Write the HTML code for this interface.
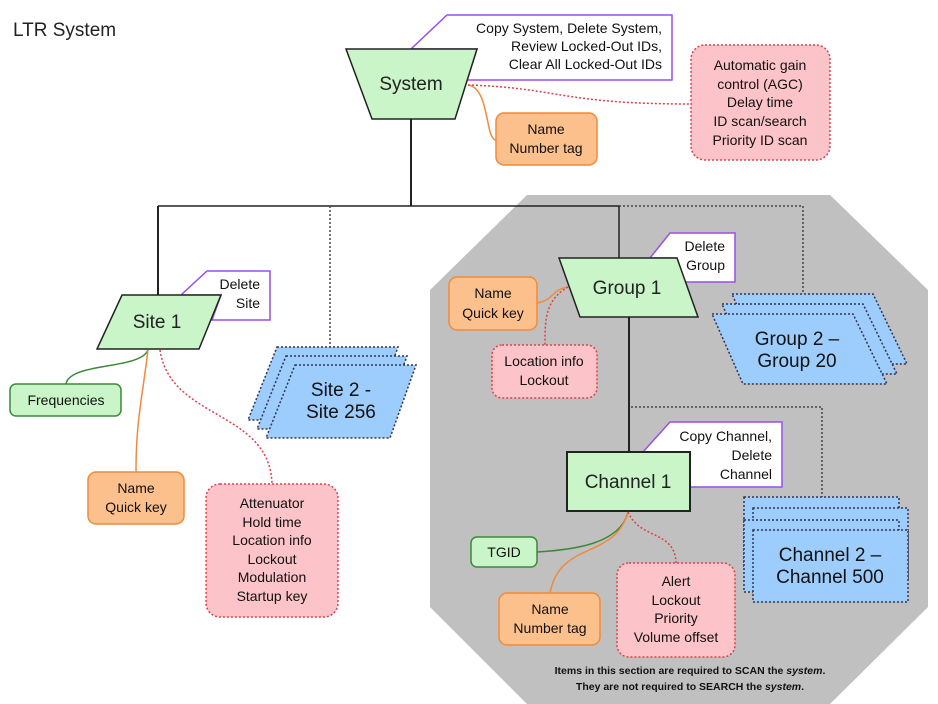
<!DOCTYPE html>
<html><head><meta charset="utf-8"><style>
html,body{margin:0;padding:0;background:#fff;}
svg{display:block;font-family:"Liberation Sans",sans-serif;}
</style></head><body>
<svg width="938" height="704" viewBox="0 0 938 704" xmlns="http://www.w3.org/2000/svg">
<text x="13" y="36" font-size="19" fill="#222">LTR System</text>
<!-- gray octagon -->
<polygon points="527,195 830,195 928,290 928,607 830,704 527,704 430,607 430,290" fill="#c0c0c0"/>
<!-- tree lines -->
<line x1="411" y1="118" x2="411" y2="206" stroke="#222" stroke-width="2"/>
<line x1="158" y1="206" x2="619" y2="206" stroke="#222" stroke-width="1.5"/>
<line x1="158" y1="206" x2="158" y2="296" stroke="#222" stroke-width="2"/>
<polyline points="619,206 803,206 803,293" fill="none" stroke="#444" stroke-width="1.5" stroke-dasharray="2,2"/>
<line x1="330" y1="206" x2="330" y2="347" stroke="#444" stroke-width="1.5" stroke-dasharray="2,2"/>
<line x1="619" y1="206" x2="619" y2="259" stroke="#222" stroke-width="1.5"/>
<line x1="629" y1="317" x2="629" y2="452" stroke="#222" stroke-width="2"/>
<polyline points="631,407 822,407 822,497" fill="none" stroke="#444" stroke-width="1.5" stroke-dasharray="2,2"/>
<!-- System -->
<polygon points="447,15 672,15 672,80 467,80 477,49 411,49" fill="#fff" stroke="#9a4ee8" stroke-width="1.5"/>
<g font-size="14" text-anchor="end" fill="#111"><text x="662" y="33">Copy System, Delete System,</text><text x="662" y="51">Review Locked-Out IDs,</text><text x="662" y="69">Clear All Locked-Out IDs</text></g>
<polygon points="346,49 477,49 455,119 372,119" fill="#c9f5c9" stroke="#222" stroke-width="1.5"/>
<text x="411" y="90" font-size="19" text-anchor="middle" fill="#222">System</text>
<path d="M468,85 C490,88 485,140 496,140" fill="none" stroke="#f08a3c" stroke-width="1.5"/>
<path d="M468,85 C560,88 560,104 691,104" fill="none" stroke="#e0404a" stroke-width="1.5" stroke-dasharray="2,2"/>
<rect x="496" y="113" width="101" height="52" rx="8" fill="#fcc08c" stroke="#f08a3c" stroke-width="1.5"/>
<g font-size="14" text-anchor="middle" fill="#111"><text x="546" y="134">Name</text><text x="546" y="153">Number tag</text></g>
<rect x="691" y="45" width="139" height="115" rx="14" fill="#fcc4c8" stroke="#e0404a" stroke-width="1.5" stroke-dasharray="2,2"/>
<g font-size="14" text-anchor="middle" fill="#111"><text x="760" y="70">Automatic gain</text><text x="760" y="89">control (AGC)</text><text x="760" y="107">Delay time</text><text x="760" y="126">ID scan/search</text><text x="760" y="145">Priority ID scan</text></g>
<!-- Site 1 -->
<polygon points="207,271 270,271 270,320 212,320 221,295 181,295" fill="#fff" stroke="#9a4ee8" stroke-width="1.5"/>
<g font-size="14" text-anchor="end" fill="#111"><text x="260" y="289">Delete</text><text x="260" y="308">Site</text></g>
<polygon points="122,295 221,295 199,349 97,349" fill="#c9f5c9" stroke="#222" stroke-width="1.5"/>
<text x="157" y="328" font-size="19" text-anchor="middle" fill="#222">Site 1</text>
<path d="M148,350 C140,370 70,362 66,384" fill="none" stroke="#3a8a3a" stroke-width="1.5"/>
<path d="M148,350 C142,400 136,420 136,472" fill="none" stroke="#f08a3c" stroke-width="1.5"/>
<path d="M160,350 C170,420 270,410 272,484" fill="none" stroke="#e0404a" stroke-width="1.5" stroke-dasharray="2,2"/>
<rect x="10" y="384" width="111" height="32" rx="6" fill="#c9f5c9" stroke="#3a8a3a" stroke-width="1.5"/>
<text x="66" y="405" font-size="14" text-anchor="middle" fill="#111">Frequencies</text>
<rect x="88" y="472" width="96" height="52" rx="8" fill="#fcc08c" stroke="#f08a3c" stroke-width="1.5"/>
<g font-size="14" text-anchor="middle" fill="#111"><text x="136" y="493">Name</text><text x="136" y="512">Quick key</text></g>
<rect x="206" y="484" width="132" height="133" rx="14" fill="#fcc4c8" stroke="#e0404a" stroke-width="1.5" stroke-dasharray="2,2"/>
<g font-size="14" text-anchor="middle" fill="#111"><text x="272" y="508">Attenuator</text><text x="272" y="527">Hold time</text><text x="272" y="545">Location info</text><text x="272" y="564">Lockout</text><text x="272" y="582">Modulation</text><text x="272" y="601">Startup key</text></g>
<!-- Site stack -->
<g fill="#9ccdfc" stroke="#335" stroke-width="1.5" stroke-dasharray="2,2">
<polygon points="277,347 398,347 372,420 248,420"/>
<polygon points="286,356 407,356 381,429 257,429"/>
<polygon points="295,365 416,365 390,438 266,438"/>
</g>
<g font-size="19" text-anchor="middle" fill="#111"><text x="341" y="396">Site 2 -</text><text x="341" y="418">Site 256</text></g>
<!-- Group 1 -->
<polygon points="670,233 735,233 735,282 683,282 677,258 650,258" fill="#fff" stroke="#9a4ee8" stroke-width="1.5"/>
<g font-size="14" text-anchor="end" fill="#111"><text x="725" y="251">Delete</text><text x="725" y="270">Group</text></g>
<polygon points="559,258 677,258 698,317 580,317" fill="#c9f5c9" stroke="#222" stroke-width="1.5"/>
<text x="627" y="294" font-size="19" text-anchor="middle" fill="#222">Group 1</text>
<path d="M568,287 C550,290 555,300 537,303" fill="none" stroke="#f08a3c" stroke-width="1.5"/>
<path d="M568,287 C545,300 545,320 545,345" fill="none" stroke="#e0404a" stroke-width="1.5" stroke-dasharray="2,2"/>
<rect x="449" y="277" width="88" height="53" rx="8" fill="#fcc08c" stroke="#f08a3c" stroke-width="1.5"/>
<g font-size="14" text-anchor="middle" fill="#111"><text x="493" y="298">Name</text><text x="493" y="318">Quick key</text></g>
<rect x="492" y="345" width="105" height="53" rx="10" fill="#fcc4c8" stroke="#e0404a" stroke-width="1.5" stroke-dasharray="2,2"/>
<g font-size="14" text-anchor="middle" fill="#111"><text x="544" y="366">Location info</text><text x="544" y="385">Lockout</text></g>
<!-- Group stack -->
<g fill="#9ccdfc" stroke="#335" stroke-width="1.5" stroke-dasharray="2,2">
<polygon points="732,294 873,294 907,364 763,364"/>
<polygon points="722,304 863,304 897,374 753,374"/>
<polygon points="712,314 853,314 887,384 743,384"/>
</g>
<g font-size="19" text-anchor="middle" fill="#111"><text x="797" y="345">Group 2 –</text><text x="797" y="367">Group 20</text></g>
<!-- Channel 1 -->
<polygon points="670,422 782,422 782,487 690,487 690,452 643,452" fill="#fff" stroke="#9a4ee8" stroke-width="1.5"/>
<g font-size="14" text-anchor="end" fill="#111"><text x="772" y="441">Copy Channel,</text><text x="772" y="460">Delete</text><text x="772" y="479">Channel</text></g>
<rect x="567" y="452" width="123" height="59" fill="#c9f5c9" stroke="#222" stroke-width="2"/>
<text x="628" y="488" font-size="19" text-anchor="middle" fill="#222">Channel 1</text>
<path d="M628,512 C620,545 570,550 537,552" fill="none" stroke="#3a8a3a" stroke-width="1.5"/>
<path d="M628,512 C615,560 560,540 550,593" fill="none" stroke="#f08a3c" stroke-width="1.5"/>
<path d="M628,512 C640,540 675,530 676,563" fill="none" stroke="#e0404a" stroke-width="1.5" stroke-dasharray="2,2"/>
<rect x="471" y="537" width="66" height="30" rx="6" fill="#c9f5c9" stroke="#3a8a3a" stroke-width="1.5"/>
<text x="504" y="557" font-size="14" text-anchor="middle" fill="#111">TGID</text>
<rect x="499" y="593" width="101" height="52" rx="8" fill="#fcc08c" stroke="#f08a3c" stroke-width="1.5"/>
<g font-size="14" text-anchor="middle" fill="#111"><text x="550" y="614">Name</text><text x="550" y="633">Number tag</text></g>
<rect x="617" y="563" width="118" height="94" rx="12" fill="#fcc4c8" stroke="#e0404a" stroke-width="1.5" stroke-dasharray="2,2"/>
<g font-size="14" text-anchor="middle" fill="#111"><text x="676" y="586">Alert</text><text x="676" y="605">Lockout</text><text x="676" y="623">Priority</text><text x="676" y="642">Volume offset</text></g>
<!-- Channel stack -->
<g fill="#9ccdfc" stroke="#335" stroke-width="1.5" stroke-dasharray="2,2">
<rect x="744" y="497" width="155" height="72"/>
<rect x="753" y="508" width="155" height="72"/>
<rect x="744" y="520" width="155" height="72"/>
<rect x="753" y="530" width="155" height="72"/>
</g>
<g font-size="19" text-anchor="middle" fill="#111"><text x="830" y="561">Channel 2 –</text><text x="830" y="583">Channel 500</text></g>
<g font-size="10.5" font-weight="bold" text-anchor="middle" fill="#111"><text x="690" y="674">Items in this section are required to SCAN the <tspan font-style="italic">system</tspan>.</text><text x="690" y="690">They are not required to SEARCH the <tspan font-style="italic">system</tspan>.</text></g>
</svg>
</body></html>
